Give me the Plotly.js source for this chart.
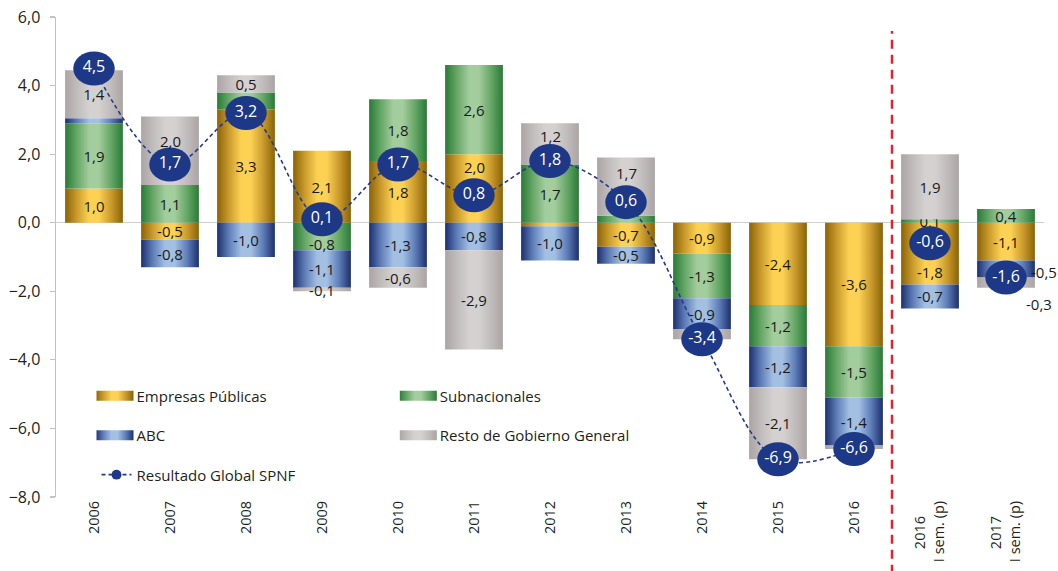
<!DOCTYPE html>
<html><head><meta charset="utf-8">
<script src="https://cdn.plot.ly/plotly-3.0.1.min.js"></script>
<style>html,body{margin:0;padding:0;background:#fff;overflow:hidden}#chart{width:1058px;height:571px}</style>
</head><body><div id="chart"></div>
<script>
// ---- data ----
const categories = ['2006','2007','2008','2009','2010','2011','2012','2013','2014','2015','2016','2016 I sem. (p)','2017 I sem. (p)'];
const tickLabels = ['2006','2007','2008','2009','2010','2011','2012','2013','2014','2015','2016',
  '2016&nbsp;&nbsp;&nbsp;&nbsp;<br>I sem. (p)', '2017&nbsp;&nbsp;&nbsp;&nbsp;<br>I sem. (p)'];
const empresasPublicas = [1.0,-0.5,3.3,2.1,1.8,2.0,-0.1,-0.7,-0.9,-2.4,-3.6,-1.8,-1.1];
const subnacionales   = [1.9,1.1,0.5,-0.8,1.8,2.6,1.7,0.2,-1.3,-1.2,-1.5,0.1,0.4];
const abc             = [0.15,-0.8,-1.0,-1.1,-1.3,-0.8,-1.0,-0.5,-0.9,-1.2,-1.4,-0.7,-0.5];
const restoGobierno   = [1.4,2.0,0.5,-0.1,-0.6,-2.9,1.2,1.7,-0.3,-2.1,-0.1,1.9,-0.3];
const resultadoGlobal = [4.5,1.7,3.2,0.1,1.7,0.8,1.8,0.6,-3.4,-6.9,-6.6,-0.6,-1.6];
const annualCount = 11; // first 11 categories are annual, joined by the line
const seriesNames = ['Empresas Públicas','Subnacionales','ABC','Resto de Gobierno General','Resultado Global SPNF'];
// segments drawn without a label in the original: [seriesIndex, categoryIndex]
const unlabeled = [[0,6],[1,2],[1,7],[2,0],[3,8],[3,10]];
// labels nudged away from the segment centre in the original: [series, category, y px shift, x px shift]
const movedLabels = [[3,1,10,0],[0,5,21,0],[3,6,8,0],[3,7,14,0],[0,11,-18,0],[1,3,-8,0],[2,12,-3,38],[3,12,-21,33]];

const fmt = v => v.toFixed(1).replace('.', ',');
const barSeries = [empresasPublicas, subnacionales, abc, restoGobierno];
const isIn = (list, s, i) => list.some(p => p[0]===s && p[1]===i);

const FONT = 'Open Sans, Noto Sans, sans-serif';
const legendOf = ['legend','legend2','legend','legend2'];
const solid = ['#e0b040','#6fae6f','#5f7fbf','#c0bcbb'];
const LABEL_SIZE = 15;

const traces = barSeries.map((vals, s) => ({
  type: 'bar', name: seriesNames[s], x: categories, y: vals,
  text: vals.map((v,i) => (isIn(unlabeled,s,i) || isIn(movedLabels,s,i)) ? '' : fmt(v)),
  textposition: 'inside', insidetextanchor: 'middle', constraintext: 'none',
  textfont: {family: FONT, size: LABEL_SIZE, color: '#1a1a1a'},
  marker: {color: solid[s], line: {width: 0}},
  legend: legendOf[s], legendgroup: 'g'+s, hoverinfo: 'skip'
}));

const lineColor = '#24398a';
traces.push({
  type: 'scatter', mode: 'lines+markers+text', name: seriesNames[4],
  x: categories.slice(0, annualCount), y: resultadoGlobal.slice(0, annualCount),
  text: resultadoGlobal.slice(0, annualCount).map(fmt),
  textposition: 'middle center', textfont: {family: FONT, size: 16, color: '#ffffff'},
  line: {color: lineColor, width: 1.6, dash: '4px,3px', shape: 'spline', smoothing: 1},
  marker: {color: '#1d3886', size: 34},
  legend: 'legend', legendgroup: 'g4', hoverinfo: 'skip'
});
traces.push({
  type: 'scatter', mode: 'markers+text', name: seriesNames[4], showlegend: false,
  x: categories.slice(annualCount), y: resultadoGlobal.slice(annualCount),
  text: resultadoGlobal.slice(annualCount).map(fmt),
  textposition: 'middle center', textfont: {family: FONT, size: 16, color: '#ffffff'},
  marker: {color: '#1d3886', size: 34}, hoverinfo: 'skip'
});

// nudged labels: placed at the stacked segment centre computed from the data
function segmentMid(s, i) {
  const v = barSeries[s][i]; let base = 0;
  for (let k = 0; k < s; k++) { const w = barSeries[k][i]; if ((w<0) === (v<0)) base += w; }
  return base + v/2;
}
const annotations = movedLabels.map(([s,i,dy,dx]) => ({
  x: i, y: segmentMid(s,i), xref:'x', yref:'y',   // category index on the category axis
  text: fmt(barSeries[s][i]), showarrow: false, xshift: dx, yshift: dy,
  font: {family: FONT, size: LABEL_SIZE, color: '#1a1a1a'}
}));

const layout = {
  width: 1058, height: 571,
  margin: {l: 56, r: 14, t: 17, b: 74},
  paper_bgcolor: '#ffffff', plot_bgcolor: 'rgba(0,0,0,0)',
  font: {family: FONT, size: 14, color: '#231f20'},
  separators: ',.',
  barmode: 'relative', bargap: 0.24,
  xaxis: {type: 'category', categoryorder: 'array', categoryarray: categories,
    range: [-0.5, categories.length - 0.5],
    tickmode: 'array', tickvals: categories, ticktext: tickLabels,
    tickangle: -90, showline: false, ticks: '', showgrid: false, zeroline: false,
    tickfont: {family: FONT, size: 14.5, color: '#231f20'}},
  xaxis2: {overlaying: 'x', anchor: 'free', position: 8/14, type: 'linear',
    range: [-0.5, categories.length - 0.5], tick0: 0.5, dtick: 1,
    ticks: 'outside', ticklen: 4, tickwidth: 1, tickcolor: '#c9c9c9',
    showticklabels: false, showline: false, showgrid: false, zeroline: false},
  yaxis: {range: [-8, 6], dtick: 2, tickformat: '.1f', showgrid: false,
    zeroline: true, zerolinecolor: '#cfcfcf', zerolinewidth: 1.5,
    showline: true, linecolor: '#c2c2c2', linewidth: 1.5,
    ticks: 'outside', ticklen: 5, tickcolor: '#c2c2c2', tickwidth: 1.2,
    ticklabelstandoff: 6,
    tickfont: {family: FONT, size: 16, color: '#231f20'}},
  legend: {x: 0.041, y: 0.245, xanchor: 'left', yanchor: 'top', orientation: 'v',
    bgcolor: 'rgba(0,0,0,0)', tracegroupgap: 17, itemwidth: 30,
    font: {family: FONT, size: 15, color: '#231f20'}},
  legend2: {x: 0.348, y: 0.245, xanchor: 'left', yanchor: 'top', orientation: 'v',
    bgcolor: 'rgba(0,0,0,0)', tracegroupgap: 17, itemwidth: 30,
    font: {family: FONT, size: 15, color: '#231f20'}},
  shapes: [{type: 'line', xref: 'x', yref: 'paper', x0: 10.5, x1: 10.5, y0: -0.16, y1: 0.971,
    line: {color: '#e8202a', width: 2.5, dash: '9px,6px'}}],
  annotations: annotations,
  showlegend: true
};

const gradients = {
  gEP:  ['#8a6306','#c99a2c','#fdd254','#fdd254','#c99a2c','#8a6306'],
  gSUB: ['#2a7a37','#64a666','#a4cd9d','#a4cd9d','#64a666','#2a7a37'],
  gABC: ['#1c2f6e','#5d7cb6','#a3c0e3','#a3c0e3','#5d7cb6','#1c2f6e'],
  gRES: ['#aaa5a4','#c0bcbb','#d4d1d0','#d4d1d0','#c0bcbb','#aaa5a4']
};
const gradIds = ['gEP','gSUB','gABC','gRES'];
const stopsAt = [0, 0.2, 0.42, 0.58, 0.8, 1];

function ensureDefs(gd) {
  if (document.getElementById('gEP')) return;
  const NS = 'http://www.w3.org/2000/svg';
  const svg = gd.querySelector('svg.main-svg');
  const defs = document.createElementNS(NS, 'defs');
  Object.keys(gradients).forEach(id => {
    const lg = document.createElementNS(NS, 'linearGradient');
    lg.setAttribute('id', id); lg.setAttribute('x1','0'); lg.setAttribute('x2','1');
    lg.setAttribute('y1','0'); lg.setAttribute('y2','0');
    gradients[id].forEach((c, k) => {
      const st = document.createElementNS(NS, 'stop');
      st.setAttribute('offset', stopsAt[k]); st.setAttribute('stop-color', c);
      lg.appendChild(st);
    });
    defs.appendChild(lg);
  });
  svg.insertBefore(defs, svg.firstChild);
}

function decorate(gd) {
  ensureDefs(gd);
  gd.querySelectorAll('g.barlayer g.trace.bars').forEach((t, i) => {
    t.querySelectorAll('path').forEach(p => { p.style.fill = 'url(#' + gradIds[i] + ')'; });
  });
  gd.querySelectorAll('g.traces').forEach(item => {
    let name = null;
    const d = item.__data__;
    if (d && d[0] && d[0].trace) name = d[0].trace.name;
    if (!name) { const t = item.querySelector('text.legendtext'); if (t) name = t.textContent; }
    const s = seriesNames.indexOf(name);
    const pts = item.querySelector('g.legendpoints');
    if (!pts) return;
    if (s >= 0 && s <= 3) {
      pts.querySelectorAll('path').forEach(p => {
        p.setAttribute('d', 'M17,5H-21V-5H17Z');
        p.style.fill = 'url(#' + gradIds[s] + ')';
        p.style.stroke = 'none';
      });
    } else if (s === 4) {
      pts.querySelectorAll('path.scatterpts').forEach(p => {
        const tr = p.getAttribute('transform') || '';
        if (tr.indexOf('scale') < 0) p.setAttribute('transform', tr + ' scale(0.62)');
      });
    }
  });
  gd.querySelectorAll('g.scatterlayer g.points path.point').forEach(p => {
    const tr = p.getAttribute('transform') || '';
    if (tr.indexOf('scale') < 0) p.setAttribute('transform', tr + ' scale(1.22,1)');
  });
}

Plotly.newPlot('chart', traces, layout, {displayModeBar: false, staticPlot: true})
  .then(gd => {
    decorate(gd);
    gd.on('plotly_afterplot', () => decorate(gd));
    setTimeout(() => decorate(gd), 100);
    setTimeout(() => decorate(gd), 400);
  });
</script>
</body></html>
